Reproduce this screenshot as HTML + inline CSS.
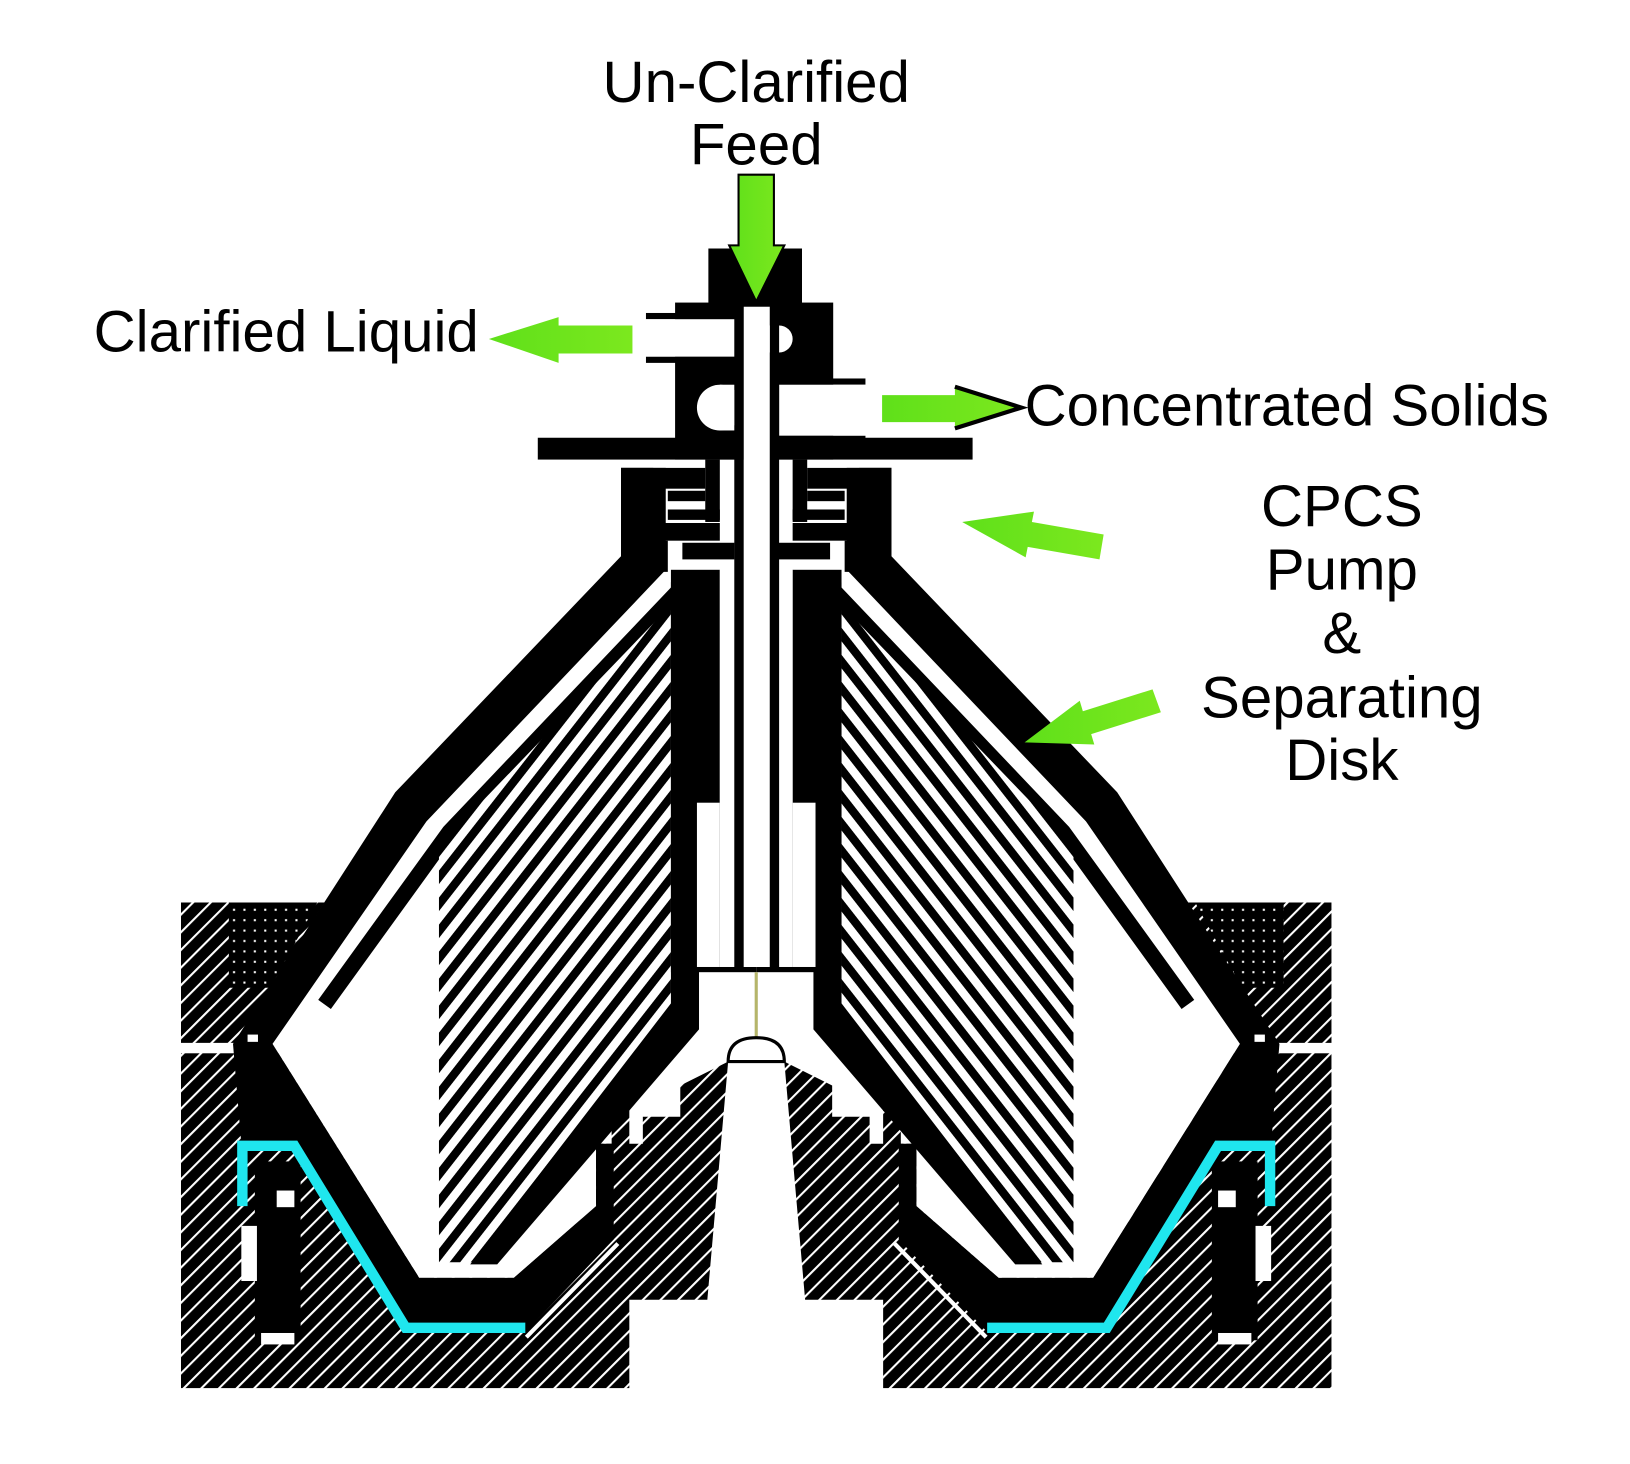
<!DOCTYPE html>
<html><head><meta charset="utf-8"><style>
html,body{margin:0;padding:0;background:#fff;}
svg{display:block;}
text{font-family:"Liberation Sans",Arial,sans-serif;fill:#000;}
</style></head><body>
<svg width="1630" height="1464" viewBox="0 0 1567 1408" preserveAspectRatio="none" xmlns="http://www.w3.org/2000/svg">
<defs>
<pattern id="hL" patternUnits="userSpaceOnUse" width="12" height="12" patternTransform="rotate(45)">
<rect width="12" height="12" fill="#000"/><rect width="2" height="12" fill="#fff"/></pattern>
<pattern id="dots" patternUnits="userSpaceOnUse" width="10" height="10">
<rect width="10" height="10" fill="#000"/><rect x="4" y="4" width="2" height="2" fill="#fff"/></pattern>
<pattern id="stack" patternUnits="userSpaceOnUse" width="16" height="16" patternTransform="rotate(38)">
<rect width="16" height="16" fill="#fff"/><rect width="8" height="16" fill="#000"/></pattern>
<linearGradient id="g" x1="0" x2="1"><stop offset="0" stop-color="#5fe01a"/><stop offset="1" stop-color="#7ce81e"/></linearGradient>
<g id="half">
 <!-- bowl interior white -->
 <polygon points="640,540 410,790 262,1004 403,1229 494,1229 573,1160 573,1100 588,1100 588,1060 645,1040 645,540" fill="#fff"/>
 <!-- bowl outer shell -->
 <polygon points="597,450 640,450 640,548 410,790 262,1004 403,1229 494,1229 573,1160 573,1100 590,1100 590,1192 506,1280 388,1280 281,1100 232,1100 224,1004 380,762 597,535" fill="#000"/>
 <!-- inner frame details -->
 <rect x="245" y="1117" width="44" height="172" fill="#000"/>
 <rect x="232" y="1179" width="15" height="53" fill="#fff"/>
 <rect x="251" y="1282" width="32" height="11" fill="#fff"/>
 <rect x="266" y="1145" width="17" height="16" fill="#fff"/>
 <rect x="238" y="995" width="10" height="7" fill="#fff"/>
 <polyline points="506,1286 594,1196" stroke="#fff" stroke-width="4" fill="none"/>
 <!-- cyan -->
 <polyline points="233,1160 233,1102 283,1102 390,1277 505,1277" stroke="#1fe6ee" stroke-width="10" fill="none"/>
 <!-- liner -->
 <polyline points="662,558 432,800 312,966" stroke="#000" stroke-width="15" fill="none"/>
 <!-- stack -->
 <polygon points="645,582 645,975 456,1214 422,1214 422,814" fill="url(#stack)"/>
 <polygon points="645,560 672,560 672,990 478,1216 452,1216 645,965" fill="#000"/>
 <!-- central column -->
 <rect x="645" y="548" width="47" height="382" fill="#000"/>
 <rect x="692" y="548" width="14" height="224" fill="#fff"/>
 <rect x="670" y="772" width="22" height="158" fill="#fff"/>
 <rect x="645" y="930" width="82" height="5" fill="#000"/>
 <rect x="706" y="292" width="9" height="640" fill="#000"/>
 <!-- neck labyrinth -->
 <rect x="597" y="450" width="81" height="20" fill="#000"/>
 <rect x="597" y="450" width="31" height="90" fill="#000"/>
 <rect x="678" y="442" width="14" height="60" fill="#000"/>
 <rect x="642" y="472" width="36" height="10" fill="#000"/>
 <rect x="642" y="490" width="50" height="10" fill="#000"/>
 <rect x="634" y="503" width="58" height="17" fill="#000"/>
 <rect x="656" y="522" width="50" height="16" fill="#000"/>
 <rect x="634" y="520" width="8" height="30" fill="#000"/>
</g>
</defs>
<rect width="1567" height="1408" fill="#fff"/>
<!-- frame hatching (both sides same direction) -->
<polygon points="174,868 312,868 226,1003 174,1003" fill="url(#hL)"/>
<polygon points="220,868 305,868 260,950 220,950" fill="url(#dots)"/>
<rect x="174" y="1013" width="431" height="322" fill="url(#hL)"/>
<polygon points="588,1100 618,1100 618,1074 654,1074 654,1044 700,1021 680,1250 588,1250" fill="url(#hL)"/>
<polygon points="1280,868 1142,868 1228,1003 1280,1003" fill="url(#hL)"/>
<polygon points="1234,868 1149,868 1194,950 1234,950" fill="url(#dots)"/>
<rect x="849" y="1013" width="431" height="322" fill="url(#hL)"/>
<polygon points="866,1100 836,1100 836,1074 800,1074 800,1044 754,1021 774,1250 866,1250" fill="url(#hL)"/>
<use href="#half"/>
<use href="#half" transform="translate(1454,0) scale(-1,1)"/>
<!-- top block (asymmetric) -->
<rect x="517" y="421" width="418" height="21" fill="#000"/>
<rect x="649" y="291" width="152" height="151" fill="#000"/>
<rect x="681" y="239" width="90" height="60" fill="#000"/>
<rect x="621" y="301" width="30" height="6" fill="#000"/>
<rect x="621" y="343" width="30" height="6" fill="#000"/>
<rect x="621" y="307" width="85" height="36" fill="#fff"/>
<circle cx="749" cy="326" r="13" fill="#fff"/>
<rect x="736" y="313" width="13" height="26" fill="#fff"/>
<rect x="800" y="364" width="32" height="6" fill="#000"/>
<rect x="800" y="419" width="32" height="6" fill="#000"/>
<rect x="749" y="370" width="83" height="49" fill="#fff"/>
<circle cx="692" cy="392" r="22" fill="#fff"/>
<rect x="692" y="370" width="14" height="44" fill="#fff"/>
<rect x="706" y="292" width="9" height="640" fill="#000"/>
<rect x="740" y="292" width="9" height="640" fill="#000"/>
<!-- centre tube -->
<rect x="715" y="295" width="25" height="635" fill="#fff"/>
<line x1="727" y1="935" x2="727" y2="1000" stroke="#b5b56a" stroke-width="3"/>
<path d="M700,1021 Q700,998 727,998 Q754,998 754,1021 Z" fill="#fff" stroke="#000" stroke-width="3"/>
<!-- arrows -->
<polygon points="710,168 744,168 744,236 754,236 727,290 701,236 710,236" fill="url(#g)" stroke="#000" stroke-width="2"/>
<polygon points="608,313 537,313 537,305 470,326 537,349 537,340 608,340" fill="url(#g)"/>
<polygon points="848,380 918,380 918,372 980,392 918,412 918,406 848,406" fill="url(#g)"/>
<polyline points="918,372 982,392 918,412" fill="none" stroke="#000" stroke-width="4"/>
<polygon points="925,502 994,492 992,502 1061,514 1057,538 988,526 986,536" fill="url(#g)"/>
<polygon points="985,714 1038,674 1041,684 1108,663 1116,685 1049,706 1052,716" fill="url(#g)"/>
<!-- text -->
<text x="727" y="98" font-size="56" text-anchor="middle">Un-Clarified</text>
<text x="727" y="158" font-size="56" text-anchor="middle">Feed</text>
<text x="90" y="338" font-size="56">Clarified Liquid</text>
<text x="985" y="409" font-size="56">Concentrated Solids</text>
<text x="1290" y="506" font-size="56" text-anchor="middle">CPCS</text>
<text x="1290" y="567" font-size="56" text-anchor="middle">Pump</text>
<text x="1290" y="628" font-size="56" text-anchor="middle">&amp;</text>
<text x="1290" y="690" font-size="56" text-anchor="middle">Separating</text>
<text x="1290" y="750" font-size="56" text-anchor="middle">Disk</text>
</svg>
</body></html>
